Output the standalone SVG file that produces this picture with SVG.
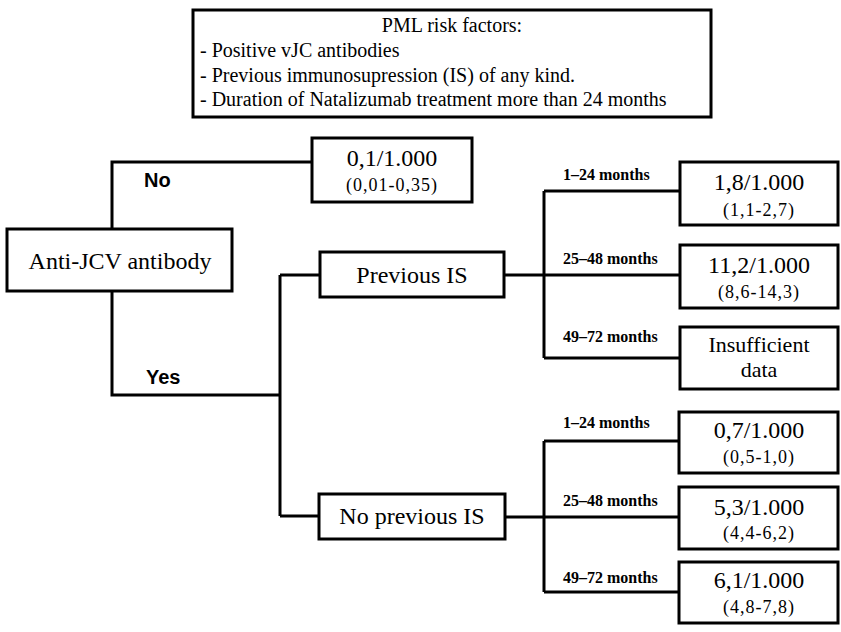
<svg xmlns="http://www.w3.org/2000/svg" width="841" height="632" viewBox="0 0 841 632">
<style>
.box{fill:#fff;stroke:#000;stroke-width:3}
.ln{fill:none;stroke:#000;stroke-width:3}
.t{font-family:'Liberation Serif','DejaVu Serif',serif;fill:#000}
.big{font-size:24px;text-anchor:middle}
.sub{font-size:18px;text-anchor:middle;letter-spacing:1px}
.mo{font-size:16px;font-weight:bold}
.yn{font-family:'Liberation Sans',Arial,sans-serif;font-size:20px;font-weight:bold;fill:#000}
.rf{font-size:20px}
</style>
<rect width="841" height="632" fill="#fff"/>
<g id="connectors">
<polyline class="ln" points="112,229 112,162 312,162"/>
<polyline class="ln" points="112,291 112,395 280,395"/>
<line class="ln" x1="280" y1="275" x2="280" y2="516"/>
<line class="ln" x1="280" y1="275" x2="320" y2="275"/>
<line class="ln" x1="280" y1="516" x2="319" y2="516"/>
<line class="ln" x1="504" y1="275" x2="680" y2="275"/>
<line class="ln" x1="544" y1="191" x2="544" y2="358"/>
<line class="ln" x1="544" y1="191" x2="680" y2="191"/>
<line class="ln" x1="544" y1="358" x2="680" y2="358"/>
<line class="ln" x1="505" y1="517" x2="679" y2="517"/>
<line class="ln" x1="544" y1="441" x2="544" y2="592"/>
<line class="ln" x1="544" y1="441" x2="679" y2="441"/>
<line class="ln" x1="544" y1="592" x2="679" y2="592"/>
<text class="yn" x="144" y="187">No</text>
<text class="yn" x="146" y="384">Yes</text>
<text class="t mo" font-family="Liberation Serif, serif" x="563" y="180">1–24 months</text>
<text class="t mo" font-family="Liberation Serif, serif" x="563" y="264">25–48 months</text>
<text class="t mo" font-family="Liberation Serif, serif" x="563" y="342">49–72 months</text>
<text class="t mo" font-family="Liberation Serif, serif" x="563" y="428">1–24 months</text>
<text class="t mo" font-family="Liberation Serif, serif" x="563" y="506">25–48 months</text>
<text class="t mo" font-family="Liberation Serif, serif" x="563" y="583">49–72 months</text>
</g>
<g id="risk-factors" font-family="Liberation Serif, serif">
<rect class="box" x="193" y="10" width="518" height="107"/>
<text class="t rf" x="452" y="32" text-anchor="middle">PML risk factors:</text>
<text class="t rf" x="200" y="57">- Positive vJC antibodies</text>
<text class="t rf" x="200" y="82">- Previous immunosupression (IS) of any kind.</text>
<text class="t rf" x="200" y="106">- Duration of Natalizumab treatment more than 24 months</text>
</g>
<g id="anti-jcv">
<rect class="box" x="7" y="229" width="225" height="62"/>
<text class="t big" x="120" y="269">Anti-JCV antibody</text>
</g>
<g id="no-result">
<rect class="box" x="312" y="138" width="160" height="64"/>
<text class="t big" x="392" y="166">0,1/1.000</text>
<text class="t sub" x="392" y="191">(0,01-0,35)</text>
</g>
<g id="previous-is">
<rect class="box" x="320" y="252" width="184" height="45"/>
<text class="t big" x="412" y="283">Previous IS</text>
</g>
<g id="no-previous-is">
<rect class="box" x="319" y="494" width="186" height="45"/>
<text class="t big" x="412" y="524">No previous IS</text>
</g>
<g id="pis-1-24">
<rect class="box" x="680" y="162" width="158" height="63"/>
<text class="t big" x="759" y="190">1,8/1.000</text>
<text class="t sub" x="759" y="216">(1,1-2,7)</text>
</g>
<g id="pis-25-48">
<rect class="box" x="680" y="245" width="158" height="63"/>
<text class="t big" x="759" y="273">11,2/1.000</text>
<text class="t sub" x="759" y="298">(8,6-14,3)</text>
</g>
<g id="pis-49-72">
<rect class="box" x="680" y="327" width="158" height="62"/>
<text class="t big" x="759" y="352" style="font-size:22px">Insufficient</text>
<text class="t big" x="759" y="377" style="font-size:22px">data</text>
</g>
<g id="npis-1-24">
<rect class="box" x="679" y="412" width="159" height="61"/>
<text class="t big" x="759" y="438">0,7/1.000</text>
<text class="t sub" x="759" y="463">(0,5-1,0)</text>
</g>
<g id="npis-25-48">
<rect class="box" x="679" y="487" width="159" height="62"/>
<text class="t big" x="759" y="515">5,3/1.000</text>
<text class="t sub" x="759" y="539">(4,4-6,2)</text>
</g>
<g id="npis-49-72">
<rect class="box" x="679" y="562" width="159" height="61"/>
<text class="t big" x="759" y="588">6,1/1.000</text>
<text class="t sub" x="759" y="613">(4,8-7,8)</text>
</g>
</svg>
